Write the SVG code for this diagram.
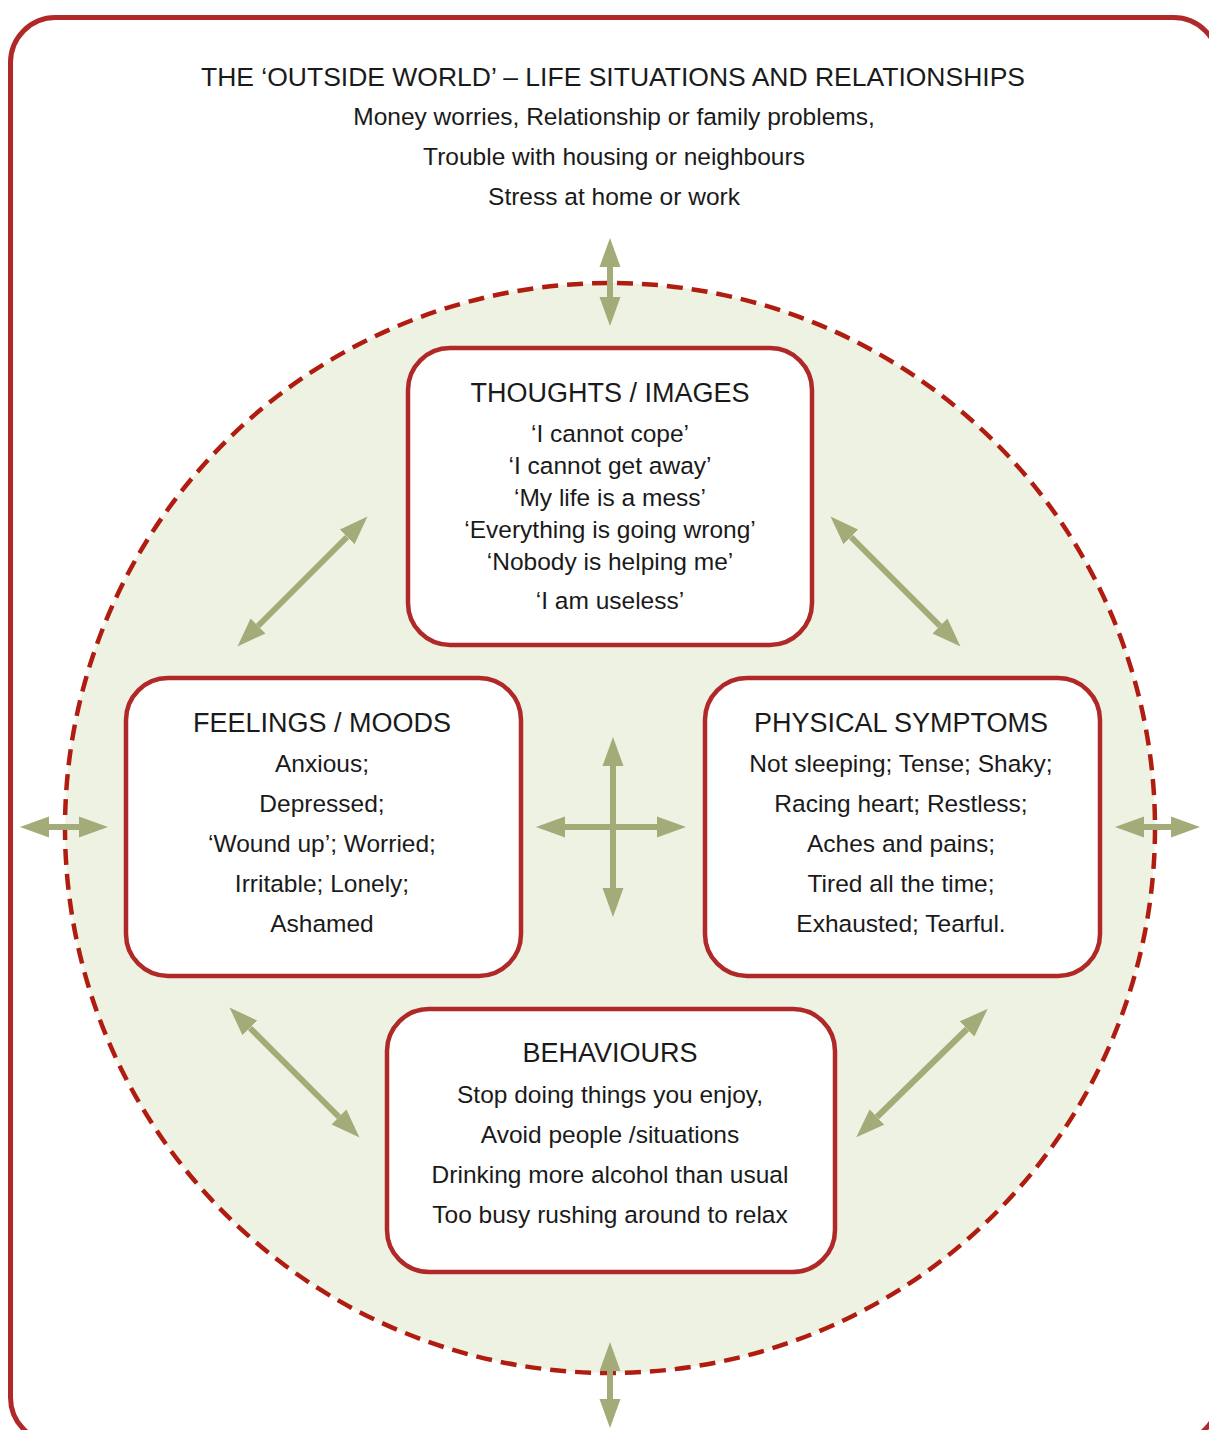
<svg xmlns="http://www.w3.org/2000/svg" width="1209" height="1430" viewBox="0 0 1209 1430">
<style>
.frame{fill:#fff;stroke:#b02828;stroke-width:5}
.world{fill:#eef2e3;stroke:#b01c10;stroke-width:4.5;stroke-dasharray:16 9}
.box{fill:#fff;stroke:#b02828;stroke-width:4.5}
.arr{stroke:#a3ab79;stroke-width:6;fill:none;marker-start:url(#ah);marker-end:url(#ah)}
text{font-family:"Liberation Sans","Open Sans",Arial,sans-serif;fill:#1a1a1a;text-anchor:middle}
.h1{font-size:26.5px}
.h2{font-size:27px}
.t{font-size:24.5px}
</style>
<defs>
<marker id="ah" markerUnits="userSpaceOnUse" viewBox="0 -11 30 22" refX="0" refY="0" markerWidth="30" markerHeight="22" orient="auto-start-reverse">
<path d="M0,-10.5 L29,0 L0,10.5 z" fill="#a3ab79"/>
</marker>
</defs>
<rect class="frame" x="10.5" y="17.5" width="1208" height="1425" rx="45"/>
<g id="outside-world">
<text class="h1" x="613" y="86">THE ‘OUTSIDE WORLD’ – LIFE SITUATIONS AND RELATIONSHIPS</text>
<text class="t" x="614" y="125">Money worries, Relationship or family problems,</text>
<text class="t" x="614" y="165">Trouble with housing or neighbours</text>
<text class="t" x="614" y="205">Stress at home or work</text>
</g>
<circle class="world" cx="610" cy="828" r="545"/>
<g id="thoughts">
<rect class="box" x="408" y="348" width="404" height="297" rx="42"/>
<text class="h2" x="610" y="402">THOUGHTS / IMAGES</text>
<text class="t" x="610" y="442">‘I cannot cope’</text>
<text class="t" x="610" y="474">‘I cannot get away’</text>
<text class="t" x="610" y="506">‘My life is a mess’</text>
<text class="t" x="610" y="538">‘Everything is going wrong’</text>
<text class="t" x="610" y="570">‘Nobody is helping me’</text>
<text class="t" x="610" y="609">‘I am useless’</text>
</g>
<g id="feelings">
<rect class="box" x="126" y="678" width="395" height="298" rx="42"/>
<text class="h2" x="322" y="732">FEELINGS / MOODS</text>
<text class="t" x="322" y="772">Anxious;</text>
<text class="t" x="322" y="812">Depressed;</text>
<text class="t" x="322" y="852">‘Wound up’; Worried;</text>
<text class="t" x="322" y="892">Irritable; Lonely;</text>
<text class="t" x="322" y="932">Ashamed</text>
</g>
<g id="physical">
<rect class="box" x="705" y="678" width="395" height="298" rx="42"/>
<text class="h2" x="901" y="732">PHYSICAL SYMPTOMS</text>
<text class="t" x="901" y="772">Not sleeping; Tense; Shaky;</text>
<text class="t" x="901" y="812">Racing heart; Restless;</text>
<text class="t" x="901" y="852">Aches and pains;</text>
<text class="t" x="901" y="892">Tired all the time;</text>
<text class="t" x="901" y="932">Exhausted; Tearful.</text>
</g>
<g id="behaviours">
<rect class="box" x="387" y="1009" width="448" height="263" rx="42"/>
<text class="h2" x="610" y="1062">BEHAVIOURS</text>
<text class="t" x="610" y="1103">Stop doing things you enjoy,</text>
<text class="t" x="610" y="1143">Avoid people /situations</text>
<text class="t" x="610" y="1183">Drinking more alcohol than usual</text>
<text class="t" x="610" y="1223">Too busy rushing around to relax</text>
</g>
<g id="connectors">
<line class="arr" x1="610" y1="267" x2="610" y2="297"/>
<line class="arr" x1="610" y1="1371" x2="610" y2="1399"/>
<line class="arr" x1="49" y1="827" x2="79" y2="827"/>
<line class="arr" x1="1144" y1="827" x2="1171" y2="827"/>
<line class="arr" x1="613" y1="766" x2="613" y2="888"/>
<line class="arr" x1="565" y1="827" x2="657" y2="827"/>
<line class="arr" x1="258" y1="626" x2="347" y2="537"/>
<line class="arr" x1="851" y1="537" x2="940" y2="626"/>
<line class="arr" x1="250" y1="1028" x2="339" y2="1117"/>
<line class="arr" x1="877" y1="1117" x2="967" y2="1029"/>
</g>
</svg>
